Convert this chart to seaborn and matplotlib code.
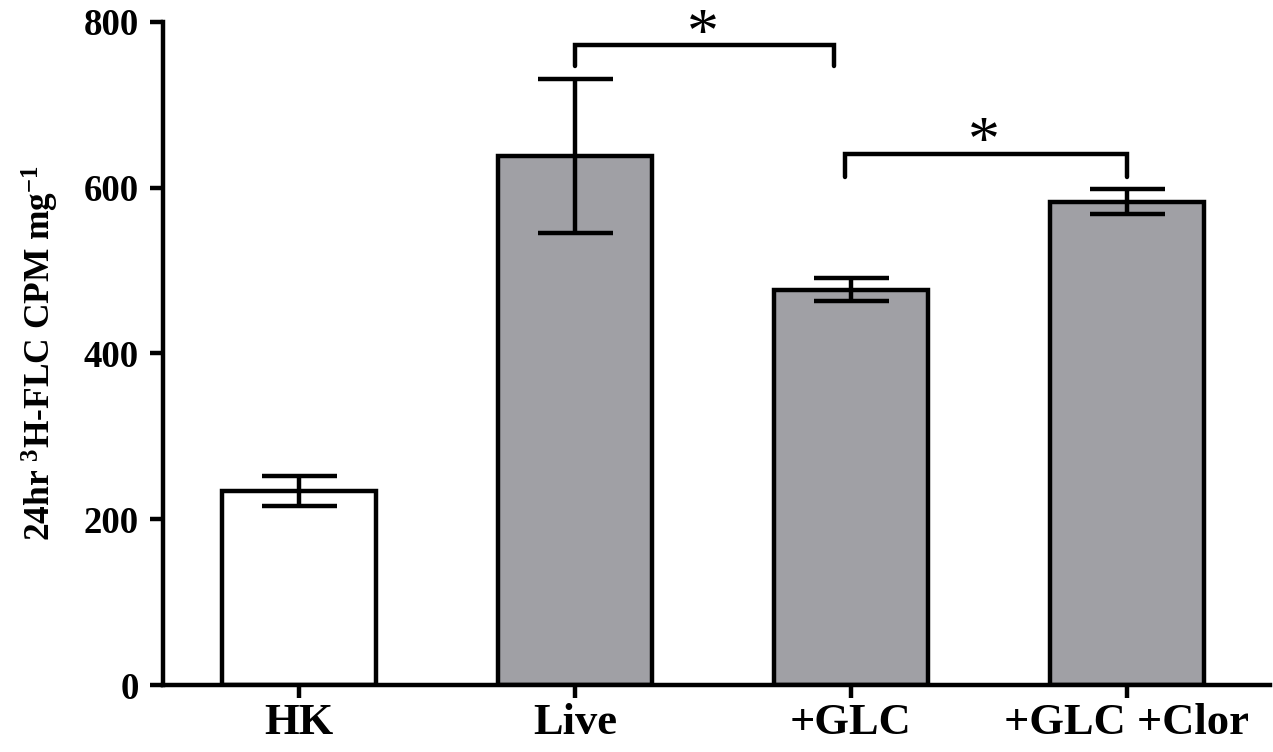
import matplotlib
matplotlib.use("Agg")
import matplotlib.pyplot as plt
import seaborn as sns
import pandas as pd
import numpy as np

# ---- data ----
categories = ["HK", "Live", "+GLC", "+GLC +Clor"]
means = [234, 638, 477, 583]
errors = [18, 93, 14, 15]
bar_colors = ["#ffffff", "#a0a0a5", "#a0a0a5", "#a0a0a5"]

# significance brackets
bracket_x1 = [1.0, 1.98]
bracket_x2 = [1.94, 3.0]
bracket_top = [772, 641]
bracket_bottom = [747, 613]
star_x = [1.465, 2.48]
star_y = [782, 651]
star_labels = ["*", "*"]

sns.set_theme(style="ticks")
plt.rcParams["font.family"] = ["Liberation Serif", "DejaVu Serif"]
plt.rcParams["font.weight"] = "bold"
plt.rcParams["text.color"] = "black"
plt.rcParams["axes.labelcolor"] = "black"
plt.rcParams["xtick.color"] = "black"
plt.rcParams["ytick.color"] = "black"
plt.rcParams["mathtext.fontset"] = "custom"
plt.rcParams["mathtext.rm"] = "Liberation Serif:bold"
plt.rcParams["mathtext.default"] = "rm"

fig = plt.figure(figsize=(12.73, 7.52), dpi=100)
ax = fig.add_axes([0.128, 0.089, 0.87, 0.882])

df = pd.DataFrame({"cat": categories, "val": means})
sns.barplot(data=df, x="cat", y="val", hue="cat", palette=bar_colors,
            order=categories, hue_order=categories, legend=False,
            width=0.56, edgecolor="black", linewidth=3.2, errorbar=None,
            saturation=1, ax=ax)

xpos = np.arange(len(categories))
ax.errorbar(xpos, means, yerr=errors, fmt="none", ecolor="black",
            elinewidth=3.2, capsize=27, capthick=3.2, zorder=5)

for x1, x2, yt, yb in zip(bracket_x1, bracket_x2, bracket_top, bracket_bottom):
    ax.plot([x1, x1, x2, x2], [yb, yt, yt, yb], color="black", lw=3.2,
            solid_joinstyle="miter", clip_on=False)
for sx, sy, lab in zip(star_x, star_y, star_labels):
    ax.text(sx, sy, lab, ha="center", va="center", fontsize=46,
            fontweight="normal", color="black", clip_on=False)

ax.set_ylim(0, 800)
ax.set_xlim(-0.493, 3.52)
ax.set_yticks([0, 200, 400, 600, 800])
ax.set_xlabel("")
ax.set_ylabel(r"24hr $^{3}$H-FLC CPM mg$^{-1}$", fontsize=25.5,
              fontweight="bold", labelpad=16, color="black")

for s in ["top", "right"]:
    ax.spines[s].set_visible(False)
for s in ["left", "bottom"]:
    ax.spines[s].set_linewidth(3.2)
    ax.spines[s].set_color("black")

ax.tick_params(axis="y", length=9.5, width=3.2, pad=8, labelsize=26.5,
               color="black", labelcolor="black")
ax.tick_params(axis="x", length=9.0, width=3.2, pad=4, labelsize=32,
               color="black", labelcolor="black")
for lab in ax.get_xticklabels() + ax.get_yticklabels():
    lab.set_fontweight("bold")

fig.savefig("out.png", dpi=100)
